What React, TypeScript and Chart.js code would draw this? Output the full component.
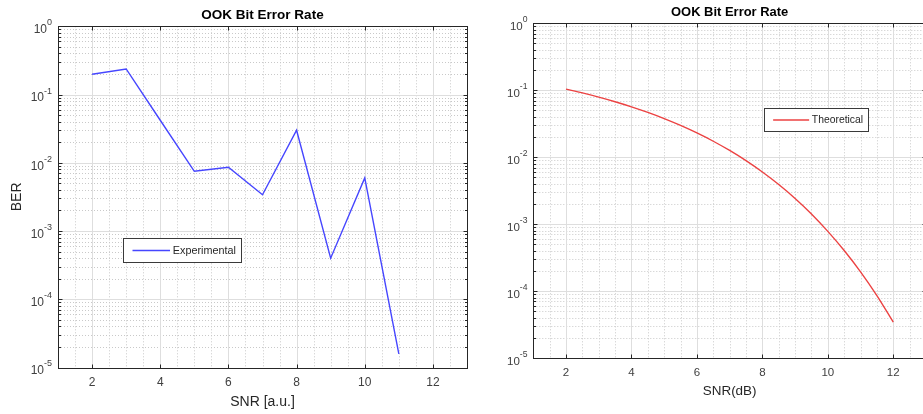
import React, { useEffect, useRef } from "react";
import { Chart, registerables } from "chart.js";

Chart.register(...registerables);

// ---------- data ----------
const expSnr = [2, 3, 4, 5, 6, 7, 8, 9, 10, 11];
const expBer = [0.198, 0.237, 0.042, 0.0075, 0.0086, 0.0034, 0.03, 0.0004, 0.006, 0.0000158];

const theoSnr = [2, 2.5, 3, 3.5, 4, 4.5, 5, 5.5, 6, 6.5, 7, 7.5, 8, 8.5, 9, 9.5, 10, 10.5, 11, 11.5, 12];
const theoBer = [
  0.104, 0.0912, 0.0789, 0.0673, 0.0565, 0.0466, 0.0377, 0.0298, 0.023, 0.0173, 0.0126,
  0.00887, 0.006, 0.0039, 0.00242, 0.00142, 0.00078, 0.000404, 0.000194, 0.0000856, 0.0000343,
];

const xTickLabels = [2, 4, 6, 8, 10, 12];
const xMinorTicks = [1.5, 2.5, 3, 3.5, 4.5, 5, 5.5, 6.5, 7, 7.5, 8.5, 9, 9.5, 10.5, 11, 11.5, 12.5];
const yDecadeExponents = [0, -1, -2, -3, -4, -5];
const yMinorFactors = [2, 3, 4, 5, 6, 7, 8, 9];

const FONT = "'Liberation Sans', Arial, Helvetica, sans-serif";

type PlotCfg = {
  id: string;
  title: string;
  xLabel: string;
  yLabel?: string;
  legendLabel: string;
  color: string;
  legendPos: [number, number]; // fraction of chart area (left, top)
  scale: number;
  padding: { left: number; top: number; right: number; bottom: number };
};

function crisp(v: number) {
  return Math.round(v) + 0.5;
}

function makePlugin(cfg: PlotCfg) {
  const s = cfg.scale;
  return {
    id: "matlabAxes" + cfg.id,
    beforeDatasetsDraw(chart: any) {
      const { ctx, chartArea: a, scales } = chart;
      const x = scales.x;
      const y = scales.y;
      ctx.save();
      ctx.lineWidth = 1;
      // minor grid (dotted)
      ctx.strokeStyle = "#c9c9c9";
      ctx.setLineDash([1, 2]);
      ctx.beginPath();
      for (const v of xMinorTicks) {
        const px = crisp(x.getPixelForValue(v));
        ctx.moveTo(px, a.top);
        ctx.lineTo(px, a.bottom);
      }
      for (const e of yDecadeExponents) {
        if (e === 0) continue;
        for (const f of yMinorFactors) {
          const py = crisp(y.getPixelForValue(f * Math.pow(10, e)));
          ctx.moveTo(a.left, py);
          ctx.lineTo(a.right, py);
        }
      }
      ctx.stroke();
      // major grid (solid)
      ctx.setLineDash([]);
      ctx.strokeStyle = "#dedede";
      ctx.beginPath();
      for (const v of xTickLabels) {
        const px = crisp(x.getPixelForValue(v));
        ctx.moveTo(px, a.top);
        ctx.lineTo(px, a.bottom);
      }
      for (const e of yDecadeExponents) {
        const py = crisp(y.getPixelForValue(Math.pow(10, e)));
        ctx.moveTo(a.left, py);
        ctx.lineTo(a.right, py);
      }
      ctx.stroke();
      ctx.restore();
    },
    afterDatasetsDraw(chart: any) {
      const { ctx, chartArea: a, scales } = chart;
      const x = scales.x;
      const y = scales.y;
      ctx.save();
      const L = crisp(a.left);
      const R = crisp(a.right);
      const T = crisp(a.top);
      const B = crisp(a.bottom);
      // box
      ctx.strokeStyle = "#262626";
      ctx.lineWidth = 1;
      ctx.strokeRect(L, T, R - L, B - T);
      // ticks
      ctx.beginPath();
      for (const v of xTickLabels) {
        const px = crisp(x.getPixelForValue(v));
        ctx.moveTo(px, B);
        ctx.lineTo(px, B - 4);
        ctx.moveTo(px, T);
        ctx.lineTo(px, T + 4);
      }
      for (const e of yDecadeExponents) {
        const py = crisp(y.getPixelForValue(Math.pow(10, e)));
        ctx.moveTo(L, py);
        ctx.lineTo(L + 4, py);
        ctx.moveTo(R, py);
        ctx.lineTo(R - 4, py);
        if (e === 0) continue;
        for (const f of yMinorFactors) {
          const pm = crisp(y.getPixelForValue(f * Math.pow(10, e)));
          ctx.moveTo(L, pm);
          ctx.lineTo(L + 2.5, pm);
          ctx.moveTo(R, pm);
          ctx.lineTo(R - 2.5, pm);
        }
      }
      ctx.stroke();

      // x tick labels
      ctx.fillStyle = "#404040";
      ctx.font = `${12 * s}px ${FONT}`;
      ctx.textAlign = "center";
      ctx.textBaseline = "middle";
      for (const v of xTickLabels) {
        ctx.fillText(String(v), x.getPixelForValue(v), a.bottom + 15 * s);
      }
      // y tick labels 10^e
      for (const e of yDecadeExponents) {
        const py = y.getPixelForValue(Math.pow(10, e));
        const expStr = e < 0 ? "-" + Math.abs(e) : String(e);
        ctx.font = `${9 * s}px ${FONT}`;
        const ew = ctx.measureText(expStr).width;
        const right = a.left - 6 * s;
        ctx.textAlign = "right";
        ctx.fillText(expStr, right, py - 3.5 * s);
        ctx.font = `${12 * s}px ${FONT}`;
        ctx.fillText("10", right - ew, py + 3.5 * s);
      }
      // x axis label
      ctx.fillStyle = "#262626";
      ctx.font = `${14 * s}px ${FONT}`;
      ctx.textAlign = "center";
      ctx.fillText(cfg.xLabel, (a.left + a.right) / 2, a.bottom + 34.5 * s);
      // y axis label
      if (cfg.yLabel) {
        ctx.save();
        ctx.translate(17.5, (a.top + a.bottom) / 2);
        ctx.rotate(-Math.PI / 2);
        ctx.fillText(cfg.yLabel, 0, 0);
        ctx.restore();
      }
      // title
      ctx.fillStyle = "#000000";
      ctx.font = `bold ${13.5 * s}px ${FONT}`;
      ctx.fillText(cfg.title, (a.left + a.right) / 2, a.top - 11 * s);

      // legend
      ctx.font = `${10.8 * s}px ${FONT}`;
      const tw = ctx.measureText(cfg.legendLabel).width;
      const bx = Math.round(a.left + cfg.legendPos[0] * (a.right - a.left)) + 0.5;
      const by = Math.round(a.top + cfg.legendPos[1] * (a.bottom - a.top)) + 0.5;
      const bw = Math.round(9 * s + 37.5 * s + 2.8 * s + tw + 5.5 * s);
      const bh = Math.round(23.5 * s);
      ctx.fillStyle = "#ffffff";
      ctx.fillRect(bx, by, bw, bh);
      ctx.strokeStyle = "#3a3a3a";
      ctx.lineWidth = 1;
      ctx.strokeRect(bx, by, bw, bh);
      ctx.strokeStyle = cfg.color;
      ctx.lineWidth = 1.3;
      ctx.beginPath();
      ctx.moveTo(bx + 9 * s, by + bh / 2);
      ctx.lineTo(bx + 46.5 * s, by + bh / 2);
      ctx.stroke();
      ctx.fillStyle = "#262626";
      ctx.textAlign = "left";
      ctx.fillText(cfg.legendLabel, bx + 49.3 * s, by + bh / 2 + 0.5);
      ctx.restore();
    },
  };
}

function Plot(props: {
  cfg: PlotCfg;
  xs: number[];
  ys: number[];
  left: number;
  width: number;
}) {
  const ref = useRef<HTMLCanvasElement>(null);
  useEffect(() => {
    const { cfg, xs, ys } = props;
    const chart = new Chart(ref.current as HTMLCanvasElement, {
      type: "line",
      data: {
        datasets: [
          {
            label: cfg.legendLabel,
            data: xs.map((v, i) => ({ x: v, y: ys[i] })),
            borderColor: cfg.color,
            borderWidth: 1.4,
            pointRadius: 0,
            fill: false,
            tension: 0,
            cubicInterpolationMode: cfg.id === "right" ? "monotone" : "default",
          },
        ],
      },
      options: {
        responsive: false,
        animation: false,
        devicePixelRatio: 1,
        layout: { padding: cfg.padding },
        plugins: {
          legend: { display: false },
          title: { display: false },
          tooltip: { enabled: false },
        },
        events: [],
        scales: {
          x: { type: "linear", min: 1, max: 13, display: false },
          y: { type: "logarithmic", min: 1e-5, max: 1, display: false },
        },
      },
      plugins: [makePlugin(cfg)],
    } as any);
    return () => chart.destroy();
  }, []);
  return (
    <canvas
      ref={ref}
      width={props.width}
      height={414}
      style={{ position: "absolute", left: props.left, top: 0, width: props.width, height: 414 }}
    />
  );
}

const leftCfg: PlotCfg = {
  id: "left",
  title: "OOK Bit Error Rate",
  xLabel: "SNR [a.u.]",
  yLabel: "BER",
  legendLabel: "Experimental",
  color: "#4646ff",
  legendPos: [0.158, 0.621],
  scale: 1,
  padding: { left: 58, top: 26.3, right: 3, bottom: 46.5 },
};

const rightCfg: PlotCfg = {
  id: "right",
  title: "OOK Bit Error Rate",
  xLabel: "SNR(dB)",
  legendLabel: "Theoretical",
  color: "#ec4242",
  legendPos: [0.588, 0.254],
  scale: 0.96,
  padding: { left: 63.3, top: 23.3, right: 14, bottom: 56 },
};

export default function App() {
  return (
    <div
      style={{
        position: "fixed",
        left: 0,
        top: 0,
        width: 923,
        height: 414,
        overflow: "hidden",
        background: "#ffffff",
      }}
    >
      <Plot cfg={leftCfg} xs={expSnr} ys={expBer} left={0} width={470} />
      <Plot cfg={rightCfg} xs={theoSnr} ys={theoBer} left={470} width={470} />
    </div>
  );
}
